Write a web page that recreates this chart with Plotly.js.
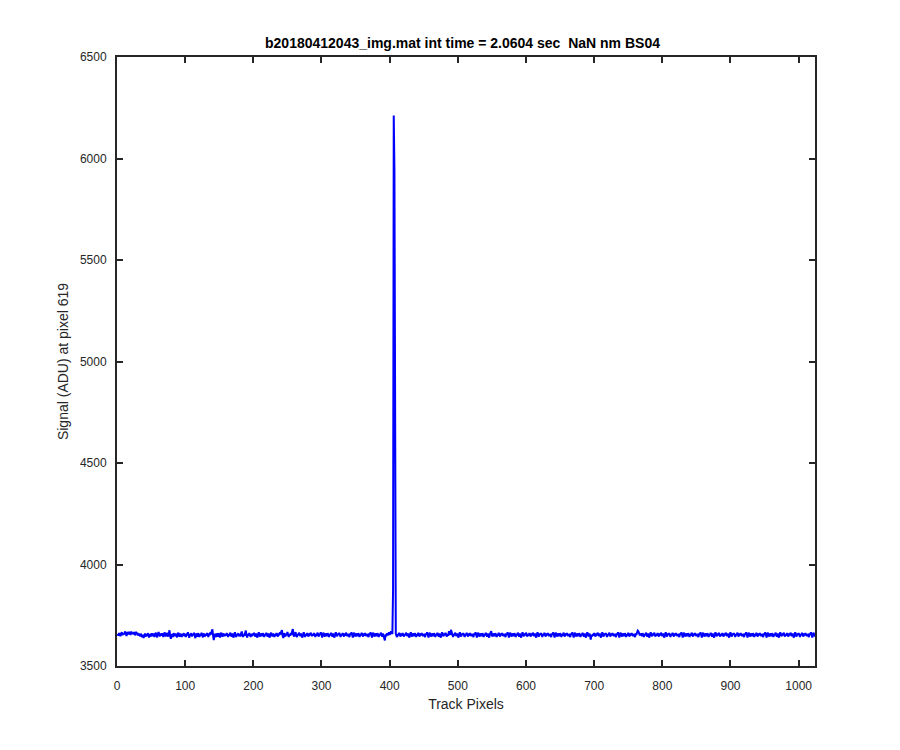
<!DOCTYPE html>
<html>
<head>
<meta charset="utf-8">
<script src="https://cdn.plot.ly/plotly-3.0.1.min.js"></script>
<style>html,body{margin:0;padding:0;background:#fff;}#chart{width:900px;height:750px;}</style>
</head>
<body>
<div id="chart"></div>
<script>
// Signal (ADU) at pixel 619 for track pixels 1..1024
const signal = [
3658,3650,3662,3655,3647,3660,3666,3652,3661,3656,3664,3670,3658,3648,3667,3662,3657,3668,3663,3653,3670,3660,3665,3656,3667,3661,3651,3669,3658,3664,3650,3659,
3655,3646,3659,3650,3642,3654,3638,3649,3660,3644,3656,3648,3662,3651,3640,3657,3649,3646,3661,3653,3647,3660,3643,3656,3664,3651,3641,3657,3667,3653,3647,3660,
3649,3661,3653,3643,3658,3665,3650,3647,3663,3655,3645,3660,3676,3649,3634,3657,3651,3643,3662,3653,3647,3660,3650,3641,3656,3664,3649,3645,3660,3654,3643,3658,
3650,3662,3647,3656,3643,3660,3651,3666,3653,3639,3658,3649,3662,3645,3656,3651,3664,3647,3637,3660,3654,3645,3662,3651,3643,3658,3649,3664,3655,3641,3660,3651,
3645,3658,3649,3662,3653,3643,3660,3651,3666,3655,3672,3680,3647,3628,3658,3649,3643,3660,3653,3645,3662,3651,3640,3656,3664,3649,3645,3660,3654,3647,3658,3649,
3662,3651,3643,3658,3649,3664,3653,3645,3660,3651,3640,3656,3666,3649,3643,3658,3651,3662,3647,3656,3645,3660,3670,3653,3643,3658,3649,3664,3674,3651,3640,3658,
3649,3662,3653,3643,3658,3647,3660,3651,3664,3655,3645,3660,3649,3640,3656,3666,3651,3645,3660,3653,3647,3662,3649,3643,3658,3651,3664,3653,3645,3660,3649,3640,
3656,3664,3651,3647,3660,3653,3643,3658,3649,3662,3653,3645,3660,3651,3666,3655,3670,3677,3649,3638,3662,3653,3645,3660,3651,3668,3655,3643,3658,3649,3662,3653,
3671,3682,3651,3645,3660,3666,3649,3643,3658,3651,3664,3653,3647,3660,3649,3640,3656,3666,3651,3643,3658,3649,3662,3653,3645,3660,3651,3664,3655,3647,3658,3649,
3662,3653,3643,3658,3649,3664,3651,3645,3660,3653,3666,3649,3640,3656,3664,3651,3645,3660,3653,3647,3662,3649,3643,3658,3651,3664,3655,3645,3660,3649,3640,3656,
3666,3651,3647,3660,3653,3664,3649,3643,3658,3651,3662,3653,3645,3660,3649,3664,3655,3647,3658,3651,3643,3660,3653,3666,3649,3640,3656,3664,3651,3645,3660,3653,
3647,3662,3649,3643,3658,3651,3664,3653,3645,3660,3649,3662,3655,3647,3658,3651,3643,3660,3653,3666,3649,3640,3656,3664,3651,3645,3660,3653,3647,3662,3649,3643,
3658,3651,3664,3653,3645,3660,3649,3632,3626,3656,3647,3662,3651,3658,3666,3653,3660,3670,3664,3658,3872,6212,5945,3668,3660,3649,3643,3658,3651,3664,3653,3645,
3660,3649,3662,3653,3645,3658,3651,3664,3655,3647,3660,3649,3640,3656,3666,3651,3645,3660,3653,3647,3662,3651,3643,3658,3649,3664,3653,3645,3660,3651,3662,3655,
3647,3658,3649,3643,3660,3653,3666,3649,3640,3656,3664,3651,3645,3660,3653,3647,3662,3649,3643,3658,3651,3664,3655,3645,3660,3649,3640,3656,3666,3653,3647,3660,
3651,3664,3653,3645,3658,3649,3672,3662,3653,3678,3666,3649,3643,3658,3651,3664,3655,3647,3660,3649,3640,3656,3666,3651,3645,3660,3653,3662,3649,3643,3658,3651,
3664,3653,3645,3660,3649,3662,3655,3647,3658,3651,3643,3660,3653,3666,3649,3640,3656,3664,3651,3645,3660,3653,3647,3662,3649,3643,3658,3651,3664,3655,3645,3660,
3649,3640,3656,3666,3672,3651,3645,3660,3653,3647,3662,3651,3643,3658,3649,3664,3653,3645,3660,3651,3662,3655,3647,3658,3649,3643,3660,3653,3666,3649,3640,3656,
3664,3651,3645,3660,3653,3647,3662,3649,3643,3658,3651,3664,3655,3645,3660,3649,3640,3656,3666,3653,3647,3660,3651,3664,3653,3645,3658,3649,3662,3653,3645,3660,
3651,3664,3655,3647,3660,3649,3640,3656,3666,3651,3645,3660,3653,3662,3649,3643,3658,3651,3664,3653,3645,3660,3651,3662,3655,3647,3658,3649,3643,3660,3653,3666,
3649,3640,3656,3664,3651,3645,3660,3653,3647,3662,3651,3643,3658,3649,3664,3653,3645,3660,3651,3662,3655,3647,3658,3649,3643,3660,3653,3666,3649,3640,3656,3664,
3651,3645,3660,3653,3647,3662,3649,3643,3658,3651,3664,3655,3645,3660,3649,3640,3656,3666,3653,3647,3660,3651,3630,3653,3645,3658,3649,3662,3653,3645,3660,3651,
3664,3655,3647,3660,3649,3640,3656,3666,3651,3645,3660,3653,3662,3649,3643,3658,3651,3664,3653,3645,3660,3651,3662,3655,3647,3658,3649,3643,3660,3653,3666,3649,
3640,3656,3664,3651,3645,3660,3653,3647,3662,3651,3643,3658,3649,3664,3653,3645,3660,3651,3662,3655,3647,3658,3649,3643,3660,3653,3666,3674,3670,3664,3651,3660,
3653,3647,3662,3649,3643,3658,3651,3664,3655,3645,3660,3649,3640,3656,3666,3653,3647,3660,3651,3664,3653,3645,3658,3649,3662,3653,3645,3660,3651,3664,3655,3647,
3660,3649,3640,3656,3666,3651,3645,3660,3653,3662,3649,3643,3658,3651,3664,3653,3645,3660,3651,3662,3655,3647,3658,3649,3643,3660,3653,3666,3649,3640,3656,3664,
3651,3645,3660,3653,3647,3662,3651,3643,3658,3649,3664,3653,3645,3660,3651,3662,3655,3647,3658,3649,3643,3660,3653,3666,3649,3640,3656,3664,3651,3645,3660,3653,
3647,3662,3649,3643,3658,3651,3664,3655,3645,3660,3649,3640,3656,3666,3653,3647,3660,3651,3664,3653,3645,3658,3649,3662,3653,3645,3660,3651,3664,3655,3647,3660,
3649,3640,3656,3666,3651,3645,3660,3653,3662,3649,3643,3658,3651,3664,3653,3645,3660,3651,3662,3655,3647,3658,3649,3643,3660,3653,3666,3649,3640,3656,3664,3651,
3645,3660,3653,3647,3662,3651,3643,3658,3649,3664,3653,3645,3660,3651,3662,3655,3647,3658,3649,3643,3660,3653,3666,3649,3640,3656,3664,3651,3645,3660,3653,3647,
3662,3649,3643,3658,3651,3664,3655,3645,3660,3649,3640,3656,3666,3653,3647,3660,3651,3664,3653,3645,3658,3649,3662,3653,3645,3660,3651,3664,3655,3647,3660,3649,
3640,3656,3666,3651,3645,3660,3653,3662,3649,3643,3658,3651,3664,3653,3645,3660,3651,3662,3655,3647,3658,3649,3643,3660,3653,3666,3649,3640,3656,3664,3651,3645
];
const trackPixels = signal.map((_, i) => i + 1);
const xTicks = [0,100,200,300,400,500,600,700,800,900,1000];
const yTicks = [3500,4000,4500,5000,5500,6000,6500];

const titleText = 'b20180412043_img.mat int time = 2.0604 sec \u00a0NaN nm BS04';
const xTitle = 'Track Pixels';
const yTitle = 'Signal (ADU) at pixel 619';

const FONT = 'Liberation Sans, Arial, Helvetica, sans-serif';
const INK = '#262626';

const axisCommon = {
  showgrid: false, zeroline: false,
  showline: true, linecolor: INK, linewidth: 2,
  mirror: 'ticks', ticks: 'inside', ticklen: 6, tickwidth: 2, tickcolor: INK,
  tickfont: {family: FONT, size: 12, color: INK},
  automargin: false
};

Plotly.newPlot('chart', [{
  x: trackPixels, y: signal, type: 'scatter', mode: 'lines',
  line: {color: '#0000ff', width: 2}, hoverinfo: 'skip'
}], {
  width: 900, height: 750,
  margin: {l: 117, r: 85, t: 57, b: 84},
  paper_bgcolor: '#ffffff', plot_bgcolor: '#ffffff',
  showlegend: false,
  font: {family: FONT, color: INK},
  title: {text: titleText, font: {family: FONT, size: 14, color: '#000', weight: 'bold'},
          x: 0.495, xanchor: 'center', xref: 'paper', y: 1 - 43/750, yanchor: 'middle', yref: 'container'},
  xaxis: Object.assign({}, axisCommon, {
    range: [0, 1024], tickmode: 'array', tickvals: xTicks, ticktext: xTicks.map(String),
    ticklabelstandoff: 8,
    title: {text: xTitle, font: {family: FONT, size: 14, color: INK}, standoff: 7}
  }),
  yaxis: Object.assign({}, axisCommon, {
    range: [3500, 6500], tickmode: 'array', tickvals: yTicks, ticktext: yTicks.map(String),
    ticklabelstandoff: 6,
    title: {text: yTitle, font: {family: FONT, size: 14, color: INK}, standoff: 8}
  })
}, {staticPlot: true});
</script>
</body>
</html>
